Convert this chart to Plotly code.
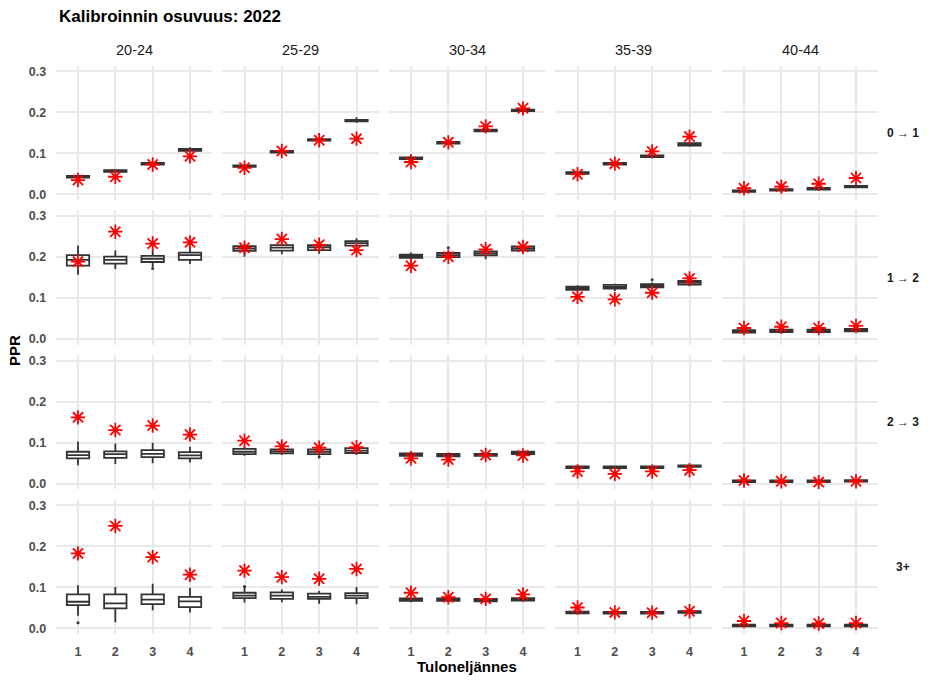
import plotly.graph_objects as go

# ---------------- data ----------------
age_groups = ["20-24", "25-29", "30-34", "35-39", "40-44"]
transitions = ["0 → 1", "1 → 2", "2 → 3", "3+"]
quartiles = [1, 2, 3, 4]
y_tickvals = [0.0, 0.1, 0.2, 0.3]
y_ticktext = ["0.0", "0.1", "0.2", "0.3"]

# statistics indexed [transition][age group][income quartile]
box_median = [
    [[0.043, 0.057, 0.075, 0.108], [0.069, 0.104, 0.133, 0.180], [0.088, 0.126, 0.156, 0.205],
     [0.052, 0.075, 0.093, 0.122], [0.008, 0.011, 0.014, 0.019]],
    [[0.193, 0.193, 0.196, 0.205], [0.221, 0.223, 0.224, 0.234], [0.202, 0.205, 0.209, 0.221],
     [0.124, 0.127, 0.130, 0.138], [0.019, 0.020, 0.020, 0.022]],
    [[0.070, 0.072, 0.073, 0.069], [0.078, 0.079, 0.078, 0.081], [0.071, 0.070, 0.070, 0.075],
     [0.040, 0.040, 0.040, 0.043], [0.006, 0.006, 0.006, 0.007]],
    [[0.065, 0.061, 0.070, 0.066], [0.080, 0.080, 0.077, 0.080], [0.070, 0.070, 0.069, 0.071],
     [0.039, 0.038, 0.038, 0.040], [0.007, 0.007, 0.007, 0.007]],
]
box_q1 = [
    [[0.041, 0.055, 0.073, 0.106], [0.067, 0.102, 0.131, 0.178], [0.086, 0.124, 0.154, 0.203],
     [0.050, 0.073, 0.091, 0.119], [0.006, 0.009, 0.012, 0.017]],
    [[0.179, 0.184, 0.188, 0.193], [0.215, 0.216, 0.217, 0.228], [0.198, 0.200, 0.204, 0.216],
     [0.120, 0.123, 0.126, 0.133], [0.016, 0.017, 0.017, 0.019]],
    [[0.062, 0.063, 0.065, 0.062], [0.072, 0.074, 0.072, 0.075], [0.068, 0.067, 0.068, 0.072],
     [0.038, 0.038, 0.038, 0.041], [0.004, 0.004, 0.004, 0.005]],
    [[0.057, 0.049, 0.059, 0.052], [0.074, 0.072, 0.072, 0.074], [0.067, 0.067, 0.066, 0.068],
     [0.037, 0.036, 0.036, 0.038], [0.005, 0.005, 0.005, 0.005]],
]
box_q3 = [
    [[0.045, 0.059, 0.077, 0.111], [0.071, 0.106, 0.135, 0.182], [0.090, 0.128, 0.158, 0.207],
     [0.054, 0.077, 0.095, 0.125], [0.010, 0.013, 0.016, 0.021]],
    [[0.205, 0.201, 0.203, 0.211], [0.227, 0.229, 0.229, 0.239], [0.206, 0.210, 0.214, 0.226],
     [0.128, 0.132, 0.134, 0.142], [0.022, 0.023, 0.023, 0.025]],
    [[0.078, 0.079, 0.082, 0.077], [0.085, 0.084, 0.084, 0.087], [0.074, 0.073, 0.073, 0.078],
     [0.042, 0.042, 0.042, 0.045], [0.008, 0.008, 0.008, 0.009]],
    [[0.083, 0.083, 0.083, 0.077], [0.087, 0.088, 0.085, 0.086], [0.073, 0.073, 0.072, 0.074],
     [0.041, 0.040, 0.040, 0.042], [0.009, 0.009, 0.009, 0.009]],
]
box_lower = [
    [[0.039, 0.053, 0.071, 0.103], [0.065, 0.100, 0.128, 0.175], [0.083, 0.121, 0.151, 0.197],
     [0.048, 0.071, 0.089, 0.116], [0.005, 0.007, 0.010, 0.015]],
    [[0.157, 0.171, 0.176, 0.183], [0.201, 0.207, 0.208, 0.221], [0.194, 0.196, 0.195, 0.212],
     [0.116, 0.117, 0.122, 0.129], [0.014, 0.015, 0.015, 0.017]],
    [[0.045, 0.048, 0.050, 0.052], [0.068, 0.070, 0.068, 0.071], [0.066, 0.065, 0.066, 0.070],
     [0.036, 0.036, 0.036, 0.039], [0.003, 0.003, 0.003, 0.004]],
    [[0.031, 0.015, 0.044, 0.039], [0.063, 0.064, 0.060, 0.059], [0.064, 0.064, 0.063, 0.065],
     [0.035, 0.034, 0.034, 0.036], [0.004, 0.004, 0.004, 0.004]],
]
box_upper = [
    [[0.047, 0.061, 0.079, 0.115], [0.073, 0.108, 0.138, 0.188], [0.098, 0.131, 0.160, 0.209],
     [0.056, 0.079, 0.097, 0.128], [0.011, 0.014, 0.018, 0.023]],
    [[0.228, 0.216, 0.217, 0.226], [0.233, 0.234, 0.234, 0.246], [0.211, 0.214, 0.219, 0.230],
     [0.131, 0.135, 0.138, 0.146], [0.024, 0.025, 0.025, 0.027]],
    [[0.103, 0.098, 0.100, 0.090], [0.090, 0.088, 0.088, 0.091], [0.079, 0.075, 0.076, 0.080],
     [0.044, 0.044, 0.044, 0.047], [0.009, 0.009, 0.009, 0.010]],
    [[0.105, 0.101, 0.109, 0.099], [0.101, 0.095, 0.091, 0.101], [0.076, 0.076, 0.075, 0.077],
     [0.043, 0.042, 0.042, 0.044], [0.010, 0.010, 0.010, 0.010]],
]
observed = [
    [[0.035, 0.043, 0.073, 0.093], [0.065, 0.106, 0.132, 0.136], [0.079, 0.127, 0.166, 0.210],
     [0.049, 0.075, 0.105, 0.141], [0.015, 0.019, 0.026, 0.040]],
    [[0.189, 0.262, 0.233, 0.236], [0.223, 0.244, 0.230, 0.217], [0.179, 0.201, 0.219, 0.225],
     [0.103, 0.097, 0.113, 0.148], [0.027, 0.030, 0.027, 0.032]],
    [[0.162, 0.131, 0.142, 0.120], [0.105, 0.091, 0.088, 0.089], [0.062, 0.059, 0.070, 0.069],
     [0.030, 0.024, 0.030, 0.033], [0.008, 0.006, 0.004, 0.006]],
    [[0.183, 0.250, 0.174, 0.131], [0.141, 0.125, 0.121, 0.145], [0.087, 0.076, 0.072, 0.083],
     [0.051, 0.039, 0.038, 0.042], [0.018, 0.013, 0.012, 0.013]],
]
# individual outlier points: transition index, age group index, quartile, value
outlier_row = [1, 1, 1, 2, 3, 3]
outlier_col = [0, 2, 3, 1, 0, 1]
outlier_quartile = [3, 2, 3, 3, 1, 1]
outlier_value = [0.172, 0.223, 0.145, 0.065, 0.014, 0.102]

# ---------------- layout geometry ----------------
W, H = 936, 688
FONT = "Liberation Sans, Arial, Helvetica, sans-serif"
GRID = "#e9e9e9"
col_left0, col_width, col_step = 55.6, 156.8, 166.5
row_top0, row_height, row_step = 65.0, 135.0, 145.3
x_range = [0.4, 4.6]
y_range = [-0.014, 0.314]

fig = go.Figure()
layout = dict(
    width=W, height=H, margin=dict(l=0, r=0, t=0, b=0),
    paper_bgcolor="white", plot_bgcolor="white", showlegend=False,
    font=dict(family=FONT),
)

n_rows, n_cols = len(transitions), len(age_groups)
for r in range(n_rows):
    for c in range(n_cols):
        n = r * n_cols + c + 1
        sx = "" if n == 1 else str(n)
        left = col_left0 + c * col_step
        top = row_top0 + r * row_step
        layout["xaxis" + sx] = dict(
            domain=[left / W, (left + col_width) / W], anchor="y" + sx,
            range=x_range, tickvals=quartiles, showgrid=True, gridcolor=GRID, gridwidth=1.5,
            zeroline=False, showline=False, showticklabels=(r == n_rows - 1),
            ticks="outside" if r == n_rows - 1 else "", ticklen=6, tickcolor="rgba(0,0,0,0)",
            tickfont=dict(size=12.5, color="#4d4d4d", family=FONT, weight="bold"),
            fixedrange=True,
        )
        layout["yaxis" + sx] = dict(
            domain=[1 - (top + row_height) / H, 1 - top / H], anchor="x" + sx,
            range=y_range, tickvals=y_tickvals, ticktext=y_ticktext,
            showgrid=True, gridcolor=GRID, gridwidth=1.5,
            zeroline=False, showline=False, showticklabels=(c == 0),
            ticks="outside" if c == 0 else "", ticklen=6, tickcolor="rgba(0,0,0,0)",
            tickfont=dict(size=12.5, color="#4d4d4d", family=FONT, weight="bold"),
            fixedrange=True,
        )
        fig.add_trace(go.Box(
            x=quartiles,
            q1=box_q1[r][c], median=box_median[r][c], q3=box_q3[r][c],
            lowerfence=box_lower[r][c], upperfence=box_upper[r][c],
            boxpoints=False, width=0.6, whiskerwidth=0,
            fillcolor="white", line=dict(color="#333333", width=1.8),
            xaxis="x" + sx, yaxis="y" + sx, hoverinfo="skip",
        ))
        ox = [outlier_quartile[i] for i in range(len(outlier_value))
              if outlier_row[i] == r and outlier_col[i] == c]
        oy = [outlier_value[i] for i in range(len(outlier_value))
              if outlier_row[i] == r and outlier_col[i] == c]
        if ox:
            fig.add_trace(go.Scatter(
                x=ox, y=oy, mode="markers",
                marker=dict(size=3, color="#333333"),
                xaxis="x" + sx, yaxis="y" + sx, hoverinfo="skip",
            ))
        fig.add_trace(go.Scatter(
            x=quartiles, y=observed[r][c], mode="markers",
            marker=dict(symbol="asterisk", size=12, color="#ff0000",
                        line=dict(color="#ff0000", width=1.8)),
            xaxis="x" + sx, yaxis="y" + sx, hoverinfo="skip",
        ))

annotations = []
# title
annotations.append(dict(text="<b>Kalibroinnin osuvuus: 2022</b>", x=56.5 / W, y=1 - 16 / H,
                        xref="paper", yref="paper", xanchor="left", yanchor="middle",
                        showarrow=False, font=dict(size=17, color="black", family=FONT)))
# column strips
for c, g in enumerate(age_groups):
    cx = col_left0 + c * col_step + col_width / 2
    annotations.append(dict(text=g, x=cx / W, y=1 - 49.5 / H, xref="paper", yref="paper",
                            xanchor="center", yanchor="middle", showarrow=False,
                            font=dict(size=14.5, color="#1a1a1a", family=FONT)))
# row strips
for r, t in enumerate(transitions):
    cy = row_top0 + r * row_step + row_height / 2
    annotations.append(dict(text="<b>" + t + "</b>", x=903 / W, y=1 - cy / H,
                            xref="paper", yref="paper", xanchor="center", yanchor="middle",
                            showarrow=False, font=dict(size=12, color="#1a1a1a", family=FONT)))
# axis titles
annotations.append(dict(text="<b>Tuloneljännes</b>",
                        x=(col_left0 + (n_cols - 1) * col_step + col_width + col_left0) / 2 / W,
                        y=1 - 668 / H, xref="paper", yref="paper", xanchor="center",
                        yanchor="middle", showarrow=False,
                        font=dict(size=15, color="black", family=FONT)))
annotations.append(dict(text="<b>PPR</b>", x=15 / W,
                        y=1 - (row_top0 + (n_rows - 1) * row_step + row_height + row_top0) / 2 / H,
                        xref="paper", yref="paper", xanchor="center", yanchor="middle",
                        textangle=-90, showarrow=False,
                        font=dict(size=15, color="black", family=FONT)))
layout["annotations"] = annotations
fig.update_layout(**layout)

fig.write_html("out.html")
